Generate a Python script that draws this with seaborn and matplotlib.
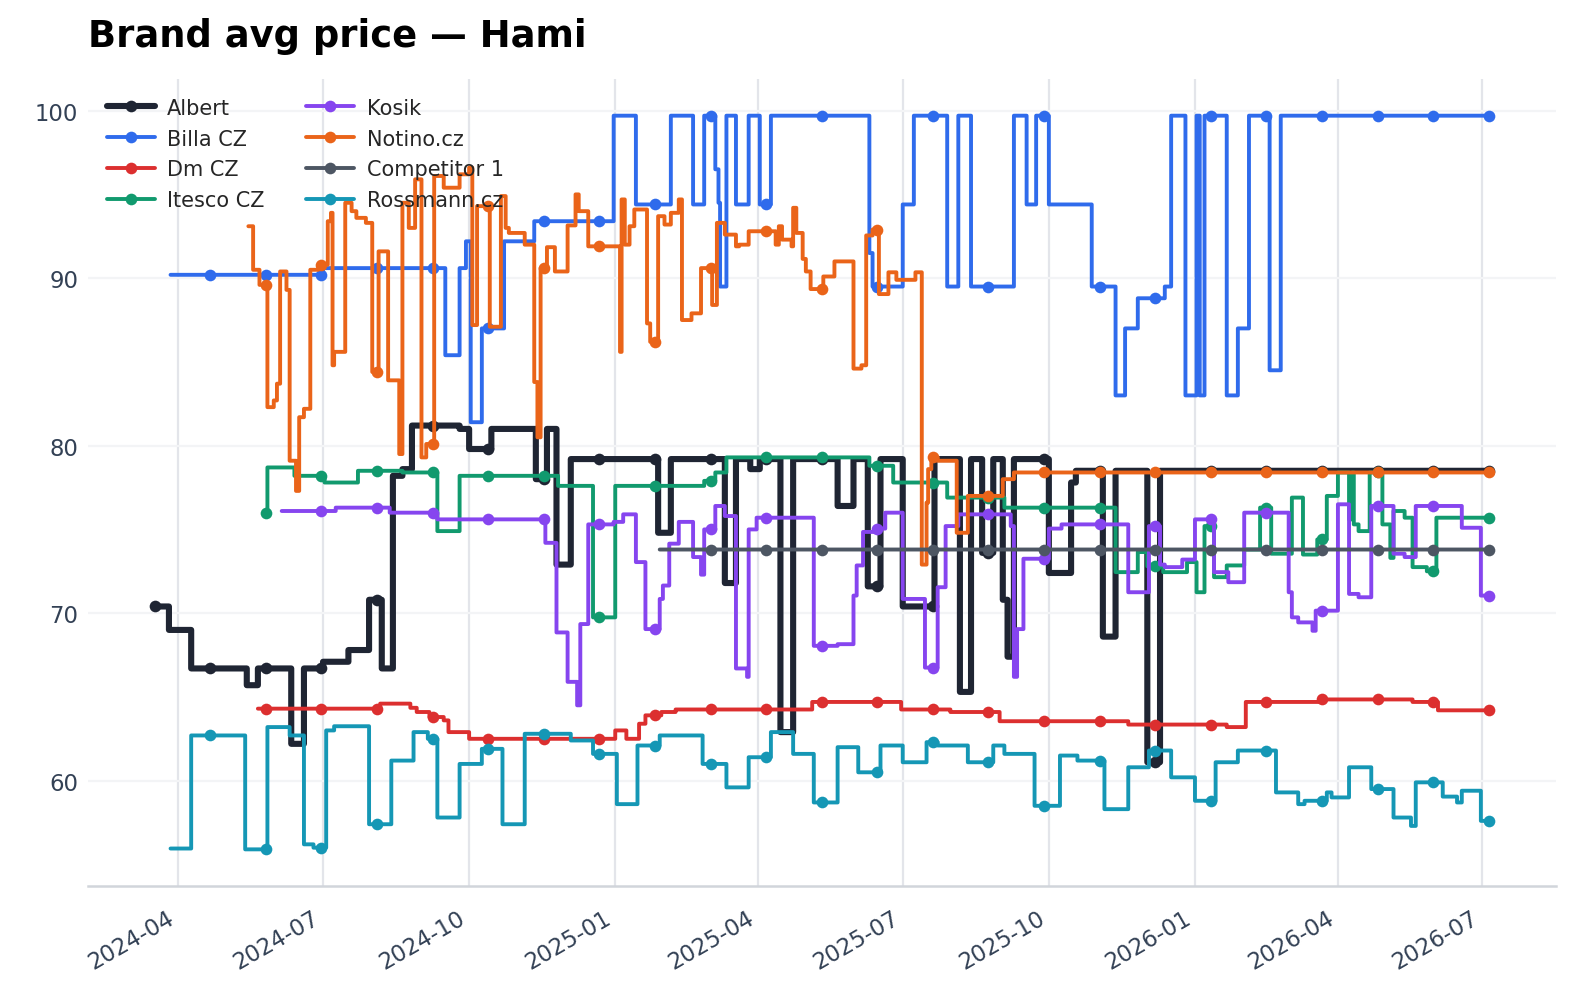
import numpy as np
import pandas as pd
import seaborn as sns
import matplotlib
matplotlib.use("Agg")
import matplotlib.dates as mdates
from matplotlib import pyplot as plt
from matplotlib.lines import Line2D

START = pd.Timestamp("2024-03-17")
LAST_DAY = 840
MARK_STEP = 35

brands = ["Albert", "Billa CZ", "Dm CZ", "Itesco CZ", "Kosik", "Notino.cz", "Competitor 1", "Rossmann.cz"]
colors = ["#1f2533", "#2f6bec", "#dc2f2f", "#119a6e", "#8645ef", "#ea6419", "#4d5663", "#1597b5"]

# day offset from START where the price changes -> new price
albert_day = [0, 9, 23, 58, 65, 86, 94, 106, 122, 135, 143, 150, 156, 162, 192, 198, 212, 240, 247, 253,
              262, 317, 325, 359, 366, 375, 381, 394, 402, 430, 440, 449, 457, 471, 491, 507, 514, 521, 528,
              534, 537, 541, 563, 577, 580, 597, 605, 625, 633]
albert_price = [70.4, 69.0, 66.7, 65.7, 66.7, 62.2, 66.7, 67.1, 67.8, 70.8, 66.7, 78.2, 78.6, 81.2, 81.0, 79.8,
                81.0, 78.0, 81.0, 72.9, 79.2, 74.8, 79.2, 71.8, 79.2, 78.6, 79.2, 62.9, 79.2, 76.4, 79.2, 71.6,
                79.2, 70.4, 79.2, 65.3, 79.2, 73.6, 79.2, 70.8, 67.4, 79.2, 72.4, 77.8, 78.5, 68.6, 78.5, 61.1,
                78.5]

billa_day = [10, 106, 183, 192, 196, 199, 206, 220, 239, 289, 303, 325, 339, 346, 353, 355, 356, 360, 366,
             374, 381, 388, 450, 452, 471, 478, 499, 506, 514, 541, 549, 555, 563, 590, 605, 611, 619, 636,
             640, 649, 656, 658, 661, 675, 682, 689, 702, 709]
billa_price = [90.2, 90.6, 85.4, 90.6, 92.2, 81.4, 87.0, 92.2, 93.4, 99.7, 94.4, 99.7, 94.4, 99.7, 96.5, 94.5,
               89.5, 99.7, 94.4, 99.7, 94.4, 99.7, 91.5, 89.5, 94.4, 99.7, 89.5, 99.7, 89.5, 99.7, 94.4, 99.7,
               94.4, 89.5, 83.0, 87.0, 88.8, 89.5, 99.7, 83.0, 99.7, 83.0, 99.7, 83.0, 87.0, 99.7, 84.5, 99.7]

dm_day = [65, 142, 161, 165, 173, 182, 185, 198, 290, 297, 305, 309, 319, 328, 414, 470, 501, 532, 613, 675,
          687, 735, 792, 808]
dm_price = [64.3, 64.6, 64.35, 64.1, 63.8, 63.6, 62.9, 62.5, 63.0, 62.5, 63.4, 63.9, 64.1, 64.25, 64.7, 64.25,
            64.1, 63.55, 63.35, 63.2, 64.7, 64.85, 64.7, 64.2]

itesco_day = [70, 71, 88, 107, 128, 156, 178, 192, 254, 276, 290, 346, 353, 360, 450, 465, 499, 535, 605, 619,
              625, 635, 650, 656, 661, 667, 675, 686, 696, 703, 716, 723, 732, 738, 745, 752, 754, 755, 758,
              765, 773, 778, 780, 787, 792, 801, 807]
itesco_price = [76.0, 78.7, 78.2, 77.8, 78.5, 78.4, 74.9, 78.2, 77.6, 69.75, 77.6, 77.9, 78.4, 79.3, 78.8, 77.8,
                76.9, 76.3, 72.45, 73.65, 72.8, 72.45, 73.05, 71.25, 75.2, 72.15, 72.85, 73.8, 76.3, 73.55,
                76.9, 73.5, 74.4, 77.0, 78.4, 75.6, 78.4, 75.3, 74.9, 78.4, 75.3, 73.3, 76.1, 75.7, 72.75, 72.5,
                75.7]

kosik_day = [80, 114, 148, 178, 246, 253, 260, 266, 268, 273, 289, 295, 303, 309, 318, 320, 324, 330, 339, 344,
             346, 353, 359, 366, 373, 374, 379, 415, 430, 440, 442, 446, 453, 460, 471, 485, 493, 498, 506,
             539, 541, 543, 547, 563, 571, 613, 626, 633, 636, 647, 655, 667, 676, 686, 714, 716, 720, 729,
             731, 745, 752, 758, 766, 780, 787, 794, 823, 835]
kosik_price = [76.1, 76.3, 76.0, 75.6, 74.2, 68.85, 65.9, 64.5, 69.35, 75.3, 75.45, 75.9, 73.05, 69.05, 70.85,
               71.65, 74.15, 75.45, 73.35, 72.3, 75.0, 76.4, 75.8, 66.7, 66.2, 75.0, 75.7, 68.05, 68.15, 71.05,
               72.85, 74.85, 75.05, 76.0, 70.85, 66.75, 71.55, 75.2, 75.9, 75.2, 66.2, 69.05, 73.25, 75.05,
               75.3, 71.25, 75.2, 72.9, 72.75, 73.2, 75.6, 72.45, 71.85, 76.0, 71.25, 69.75, 69.45, 68.95,
               70.15, 76.5, 71.15, 70.95, 76.4, 73.55, 73.35, 76.4, 75.1, 71.05]

notino_day = [59, 62, 66, 71, 75, 77, 79, 83, 85, 89, 91, 94, 98, 103, 109, 111, 112, 113, 120, 124, 127, 133,
              137, 141, 147, 154, 156, 160, 164, 168, 171, 176, 182, 192, 198, 200, 203, 211, 218, 221, 223,
              233, 239, 241, 243, 247, 252, 260, 265, 267, 273, 293, 294, 296, 299, 302, 310, 312, 317, 321,
              325, 330, 332, 338, 344, 351, 354, 359, 366, 368, 374, 391, 393, 395, 401, 402, 404, 408, 410,
              413, 421, 428, 440, 445, 448, 452, 456, 462, 467, 479, 483, 486, 487, 489, 493, 505, 512, 534,
              541]
notino_price = [93.1, 90.5, 89.6, 82.3, 82.7, 83.7, 90.4, 89.3, 79.1, 77.3, 81.7, 82.2, 90.5, 90.8, 93.4, 93.9,
                84.8, 85.6, 94.5, 94.0, 93.6, 93.3, 84.4, 91.6, 83.9, 79.5, 94.5, 93.0, 95.9, 79.3, 80.1, 96.1,
                95.4, 96.2, 96.6, 87.2, 94.3, 87.1, 94.9, 93.0, 92.7, 92.0, 83.8, 80.5, 90.6, 91.85, 90.4,
                93.15, 95.0, 94.0, 91.9, 85.6, 94.7, 92.0, 93.1, 94.1, 87.3, 86.2, 93.7, 93.2, 93.9, 94.7,
                87.5, 87.9, 90.6, 88.4, 93.3, 92.6, 91.9, 92.0, 92.8, 92.0, 93.1, 92.3, 91.9, 94.2, 92.7,
                91.15, 90.4, 89.35, 90.1, 91.0, 84.6, 84.8, 92.55, 92.9, 89.05, 90.35, 89.9, 90.35, 72.9,
                76.6, 78.6, 79.3, 79.1, 74.8, 77.0, 78.0, 78.4]

competitor_day = [318]
competitor_price = [73.8]

rossmann_day = [10, 23, 57, 71, 85, 94, 100, 108, 113, 135, 149, 163, 172, 178, 192, 206, 219, 233, 262, 276,
                291, 304, 318, 345, 360, 374, 388, 402, 415, 430, 443, 457, 471, 486, 493, 512, 528, 535, 554,
                570, 581, 598, 613, 626, 640, 655, 668, 682, 706, 720, 724, 738, 741, 752, 766, 780, 791, 794,
                811, 820, 823, 835]
rossmann_price = [55.95, 62.7, 55.9, 63.2, 62.7, 56.2, 56.0, 63.0, 63.25, 57.4, 61.2, 62.9, 62.5, 57.8, 61.0,
                  61.9, 57.4, 62.8, 62.4, 61.6, 58.6, 62.1, 62.7, 61.0, 59.6, 61.4, 62.9, 61.6, 58.7, 62.0,
                  60.5, 62.1, 61.1, 62.3, 62.1, 61.1, 62.1, 61.6, 58.5, 61.5, 61.2, 58.3, 60.8, 61.8, 60.2,
                  58.8, 61.1, 61.8, 59.3, 58.6, 58.8, 59.3, 59.0, 60.8, 59.5, 57.8, 57.3, 59.9, 59.05, 58.7,
                  59.4, 57.6]

series = {
    "Albert": (albert_day, albert_price),
    "Billa CZ": (billa_day, billa_price),
    "Dm CZ": (dm_day, dm_price),
    "Itesco CZ": (itesco_day, itesco_price),
    "Kosik": (kosik_day, kosik_price),
    "Notino.cz": (notino_day, notino_price),
    "Competitor 1": (competitor_day, competitor_price),
    "Rossmann.cz": (rossmann_day, rossmann_price),
}

# daily price table (price holds until the next change)
frames = []
for brand, (days, prices) in series.items():
    s = pd.Series(prices, index=days)
    full = s.reindex(np.arange(days[0], LAST_DAY + 1)).ffill()
    frames.append(pd.DataFrame({"brand": brand, "day": full.index, "price": full.values}))
data = pd.concat(frames, ignore_index=True)
data["date"] = START + pd.to_timedelta(data["day"], unit="D")

sns.set_style("white")
fig, ax = plt.subplots(figsize=(7.88, 4.975), dpi=200)

for brand, color in zip(brands, colors):
    d = data[data["brand"] == brand]
    lw = 2.2 if brand == "Albert" else 1.4
    sns.lineplot(data=d, x="date", y="price", color=color, linewidth=lw, drawstyle="steps-post",
                 marker="o", markersize=4.2, markeredgewidth=0, markevery=list(d["day"] % MARK_STEP == 0),
                 estimator=None, sort=False, legend=False, ax=ax)

ax.set_title("Brand avg price — Hami", loc="left", fontsize=13.3, fontweight="bold", color="black", pad=12)
ax.set_xlabel("")
ax.set_ylabel("")
for side in ["left", "right", "top"]:
    ax.spines[side].set_visible(False)
ax.spines["bottom"].set_color("#d1d5db")
ax.spines["bottom"].set_linewidth(0.9)
ax.grid(axis="x", color="#e3e5ea", linewidth=0.8)
ax.grid(axis="y", color="#f3f4f6", linewidth=0.8)
ax.set_axisbelow(True)

ax.set_yticks([60, 70, 80, 90, 100])
ax.xaxis.set_major_locator(mdates.MonthLocator(bymonth=[1, 4, 7, 10]))
ax.xaxis.set_major_formatter(mdates.DateFormatter("%Y-%m"))
ax.tick_params(axis="y", length=0, labelsize=8.2, labelcolor="#334155")
ax.tick_params(axis="x", length=3.5, width=0.8, color="#334155", labelsize=8.2, labelcolor="#334155")
plt.setp(ax.get_xticklabels(), rotation=30, ha="right")

handles = [Line2D([0], [0], color=c, linewidth=(2.2 if b == "Albert" else 1.4), marker="o",
                  markersize=4.2, markeredgewidth=0) for b, c in zip(brands, colors)]
ax.legend(handles, brands, loc="upper left", ncol=2, frameon=False, fontsize=7.5, handlelength=2.3,
          handletextpad=0.6, columnspacing=2.0, labelspacing=0.52, borderaxespad=0.5)

fig.subplots_adjust(left=0.0558, right=0.987, bottom=0.1085, top=0.9196)
fig.savefig("out.png", dpi=200)
